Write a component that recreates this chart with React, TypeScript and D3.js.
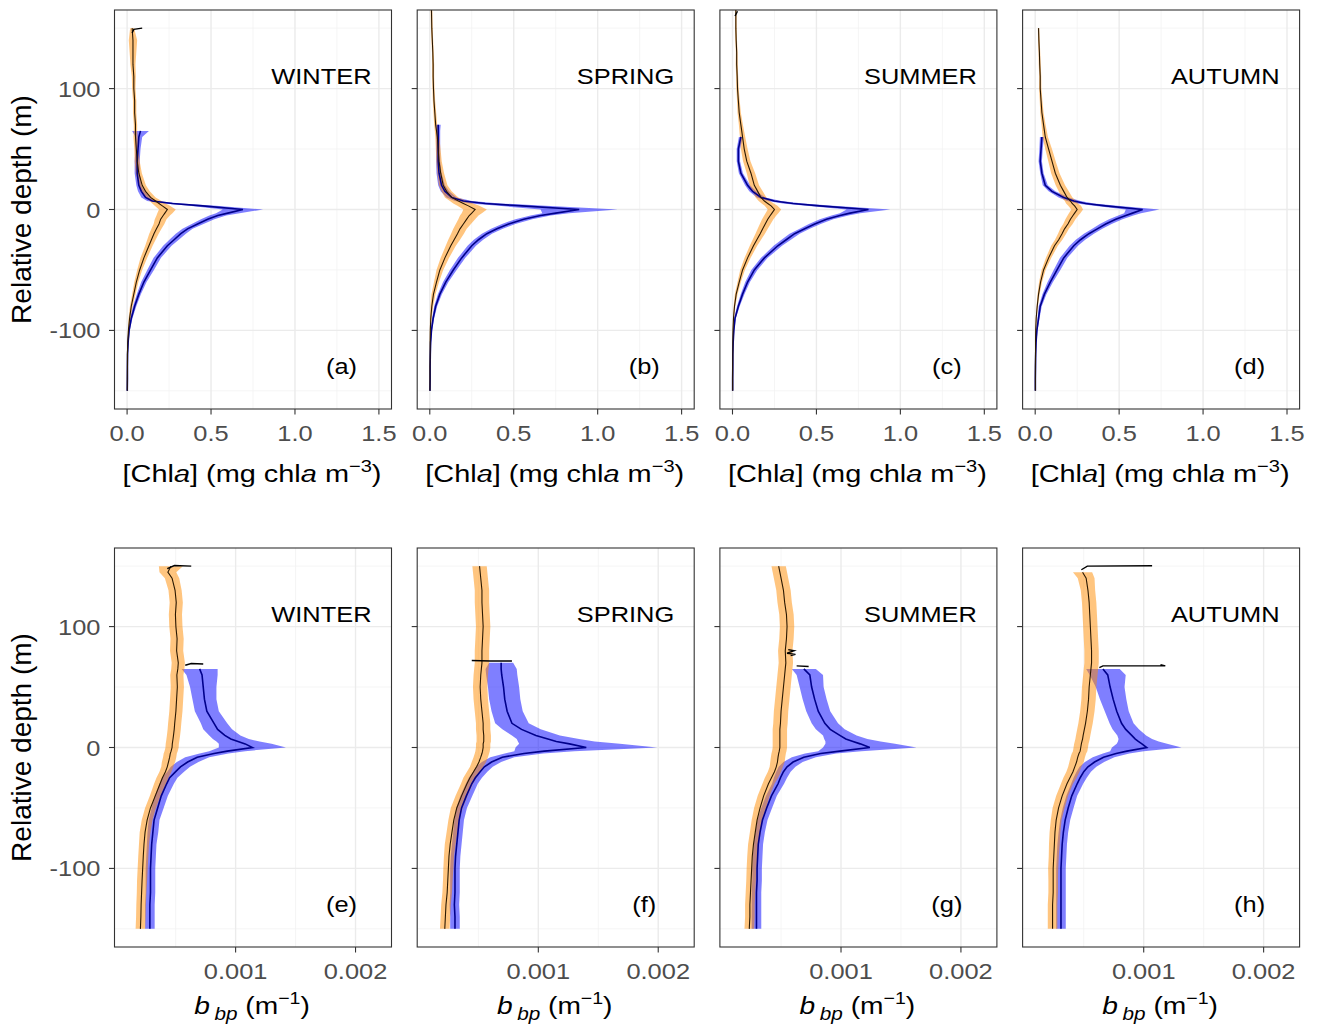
import React from "react";
import * as d3 from "d3";

// ---------- labels ----------
const SEASONS = ["WINTER", "SPRING", "SUMMER", "AUTUMN"];
const CHL_LETTERS = ["(a)", "(b)", "(c)", "(d)"];
const BBP_LETTERS = ["(e)", "(f)", "(g)", "(h)"];
const Y_TICKS = [-100, 0, 100];
const Y_MINOR = [-150, -50, 50, 150];
const CHL_TICKS = [0, 0.5, 1.0, 1.5];
const CHL_TICK_LABELS = ["0.0", "0.5", "1.0", "1.5"];
const CHL_MINOR = [0.25, 0.75, 1.25];
const BBP_TICKS = [0.001, 0.002];
const BBP_TICK_LABELS = ["0.001", "0.002"];
const BBP_MINOR = [0.0005, 0.0015];

// ---------- data: relative depth grids ----------
const DEPTH_CHL = [165, 150, 140, 130, 120, 110, 100, 90, 80, 70, 65, 60, 50, 40, 30, 20, 15, 10, 7, 5, 3, 0, -3, -5, -8, -12, -16, -20, -25, -30, -40, -50, -60, -70, -80, -90, -100, -110, -120, -130, -140, -150];
const DEPTH_BBP = [150, 145, 140, 130, 120, 110, 100, 90, 80, 70, 65, 60, 50, 40, 30, 20, 15, 10, 7, 5, 3, 0, -3, -5, -8, -12, -16, -20, -25, -30, -40, -50, -60, -70, -80, -90, -100, -110, -120, -130, -140, -150];

const N = null;

// ---------- [Chla] (mg m-3): orange = group 1, blue = group 2 ----------
const chlWinterOrange = [N, 0.03, 0.035, 0.035, 0.035, 0.04, 0.04, 0.045, 0.045, 0.05, 0.05, 0.05, 0.055, 0.06, 0.07, 0.09, 0.11, 0.14, 0.17, 0.19, 0.21, 0.24, 0.225, 0.215, 0.2, 0.19, 0.175, 0.16, 0.145, 0.13, 0.1, 0.075, 0.055, 0.04, 0.025, 0.015, 0.008, 0.004, 0.002, 0.002, 0.001, 0.001];
const chlWinterOrangeSd = [N, 0.012, 0.025, 0.02, 0.015, 0.012, 0.01, 0.01, 0.01, 0.01, 0.01, 0.012, 0.012, 0.015, 0.018, 0.022, 0.025, 0.03, 0.035, 0.04, 0.045, 0.05, 0.045, 0.04, 0.035, 0.032, 0.03, 0.028, 0.025, 0.022, 0.02, 0.015, 0.012, 0.01, 0.008, 0.006, 0.004, 0.002, 0.001, 0.001, 0.001, 0.001];
const chlWinterBlue = [N, N, N, N, N, N, N, N, N, N, 0.08, 0.07, 0.065, 0.06, 0.06, 0.07, 0.085, 0.11, 0.15, 0.27, 0.45, 0.69, 0.6, 0.54, 0.48, 0.42, 0.36, 0.32, 0.28, 0.24, 0.18, 0.14, 0.1, 0.07, 0.045, 0.025, 0.012, 0.006, 0.003, 0.002, 0.002, 0.001];
const chlWinterBlueSd = [N, N, N, N, N, N, N, N, N, N, 0.05, 0.02, 0.015, 0.015, 0.015, 0.015, 0.02, 0.025, 0.03, 0.05, 0.08, 0.12, 0.07, 0.05, 0.04, 0.035, 0.03, 0.03, 0.028, 0.025, 0.022, 0.02, 0.016, 0.012, 0.01, 0.007, 0.004, 0.003, 0.002, 0.001, 0.001, 0.001];

const chlSpringOrange = [0.01, 0.012, 0.015, 0.018, 0.02, 0.02, 0.022, 0.025, 0.03, 0.035, 0.04, 0.045, 0.05, 0.055, 0.065, 0.08, 0.1, 0.13, 0.17, 0.2, 0.23, 0.27, 0.25, 0.235, 0.22, 0.2, 0.18, 0.165, 0.145, 0.125, 0.09, 0.06, 0.04, 0.022, 0.012, 0.006, 0.003, 0.002, 0.002, 0.001, 0.001, 0.001];
const chlSpringOrangeSd = [0.005, 0.005, 0.005, 0.005, 0.006, 0.006, 0.006, 0.007, 0.008, 0.009, 0.01, 0.012, 0.014, 0.016, 0.02, 0.025, 0.03, 0.04, 0.05, 0.06, 0.065, 0.07, 0.06, 0.055, 0.05, 0.045, 0.04, 0.038, 0.035, 0.03, 0.025, 0.02, 0.015, 0.012, 0.008, 0.005, 0.003, 0.002, 0.001, 0.001, 0.001, 0.001];
const chlSpringBlue = [N, N, N, N, N, N, N, N, N, 0.05, 0.05, 0.05, 0.05, 0.05, 0.055, 0.07, 0.09, 0.13, 0.2, 0.33, 0.55, 0.89, 0.75, 0.66, 0.56, 0.47, 0.4, 0.34, 0.29, 0.25, 0.19, 0.14, 0.095, 0.06, 0.035, 0.02, 0.01, 0.005, 0.003, 0.002, 0.002, 0.001];
const chlSpringBlueSd = [N, N, N, N, N, N, N, N, N, 0.015, 0.012, 0.012, 0.012, 0.012, 0.015, 0.02, 0.025, 0.03, 0.05, 0.09, 0.14, 0.23, 0.08, 0.06, 0.05, 0.04, 0.035, 0.03, 0.028, 0.025, 0.022, 0.02, 0.016, 0.012, 0.009, 0.006, 0.004, 0.003, 0.002, 0.001, 0.001, 0.001];

const chlSummerOrange = [0.02, 0.02, 0.022, 0.025, 0.025, 0.028, 0.03, 0.035, 0.04, 0.05, 0.055, 0.06, 0.07, 0.085, 0.11, 0.13, 0.15, 0.17, 0.19, 0.21, 0.23, 0.25, 0.235, 0.225, 0.21, 0.195, 0.18, 0.165, 0.145, 0.125, 0.09, 0.06, 0.04, 0.022, 0.012, 0.006, 0.003, 0.002, 0.002, 0.001, 0.001, 0.001];
const chlSummerOrangeSd = [0.004, 0.005, 0.005, 0.005, 0.006, 0.006, 0.007, 0.008, 0.01, 0.012, 0.014, 0.016, 0.02, 0.022, 0.025, 0.028, 0.03, 0.032, 0.034, 0.036, 0.038, 0.04, 0.038, 0.036, 0.034, 0.032, 0.03, 0.028, 0.025, 0.022, 0.018, 0.014, 0.01, 0.008, 0.005, 0.003, 0.002, 0.001, 0.001, 0.001, 0.001, 0.001];
const chlSummerBlue = [N, N, N, N, N, N, N, N, N, N, N, 0.05, 0.035, 0.035, 0.05, 0.09, 0.12, 0.17, 0.25, 0.36, 0.52, 0.81, 0.7, 0.64, 0.56, 0.49, 0.43, 0.37, 0.32, 0.27, 0.19, 0.13, 0.09, 0.06, 0.035, 0.015, 0.008, 0.004, 0.002, 0.002, 0.001, 0.001];
const chlSummerBlueSd = [N, N, N, N, N, N, N, N, N, N, N, 0.012, 0.01, 0.01, 0.012, 0.015, 0.02, 0.025, 0.04, 0.06, 0.08, 0.13, 0.06, 0.05, 0.04, 0.035, 0.03, 0.03, 0.028, 0.025, 0.02, 0.018, 0.014, 0.011, 0.008, 0.005, 0.003, 0.002, 0.001, 0.001, 0.001, 0.001];

const chlAutumnOrange = [N, 0.02, 0.022, 0.025, 0.027, 0.03, 0.03, 0.035, 0.04, 0.05, 0.055, 0.06, 0.08, 0.1, 0.12, 0.15, 0.17, 0.19, 0.21, 0.22, 0.235, 0.25, 0.235, 0.225, 0.21, 0.195, 0.175, 0.16, 0.14, 0.115, 0.08, 0.05, 0.032, 0.02, 0.012, 0.006, 0.003, 0.002, 0.002, 0.001, 0.001, 0.001];
const chlAutumnOrangeSd = [N, 0.004, 0.005, 0.005, 0.006, 0.006, 0.007, 0.008, 0.01, 0.012, 0.014, 0.016, 0.02, 0.022, 0.025, 0.028, 0.03, 0.032, 0.034, 0.036, 0.038, 0.035, 0.034, 0.032, 0.03, 0.028, 0.026, 0.024, 0.022, 0.02, 0.016, 0.012, 0.009, 0.006, 0.004, 0.003, 0.002, 0.001, 0.001, 0.001, 0.001, 0.001];
const chlAutumnBlue = [N, N, N, N, N, N, N, N, N, N, N, 0.04, 0.035, 0.03, 0.04, 0.06, 0.1, 0.17, 0.23, 0.3, 0.42, 0.64, 0.58, 0.54, 0.48, 0.42, 0.37, 0.32, 0.27, 0.23, 0.17, 0.13, 0.09, 0.055, 0.03, 0.02, 0.01, 0.005, 0.003, 0.002, 0.001, 0.001];
const chlAutumnBlueSd = [N, N, N, N, N, N, N, N, N, N, N, 0.012, 0.01, 0.01, 0.01, 0.015, 0.02, 0.03, 0.04, 0.05, 0.07, 0.1, 0.05, 0.045, 0.04, 0.035, 0.03, 0.03, 0.028, 0.025, 0.022, 0.02, 0.016, 0.012, 0.009, 0.006, 0.004, 0.003, 0.002, 0.001, 0.001, 0.001];

// top-of-profile black hooks: [value, depth]
const chlWinterHook = [[0.03, 146], [0.04, 149], [0.09, 150]];
const chlSummerHook = [[0.015, 160], [0.03, 164]];

// ---------- bbp (values in 1e-4 m-1) ----------
const BBP_UNIT = 1e-4;
const bbpWinterOrange = [4.6, 4.35, 4.7, 4.95, 5.05, 4.98, 5.02, 5.12, 5.08, 5.22, 5.18, 5.1, 5.14, 5.08, 5.02, 4.92, 4.88, 4.82, 4.78, 4.75, 4.72, 4.7, 4.62, 4.55, 4.5, 4.4, 4.3, 4.15, 3.9, 3.7, 3.3, 2.9, 2.62, 2.45, 2.36, 2.3, 2.25, 2.2, 2.16, 2.12, 2.1, 2.06];
const bbpWinterOrangeSd = [1.0, 0.7, 0.6, 0.55, 0.55, 0.55, 0.55, 0.55, 0.55, 0.55, 0.55, 0.55, 0.55, 0.55, 0.55, 0.55, 0.55, 0.55, 0.55, 0.55, 0.55, 0.55, 0.55, 0.55, 0.55, 0.55, 0.5, 0.5, 0.5, 0.5, 0.45, 0.45, 0.45, 0.45, 0.42, 0.42, 0.42, 0.42, 0.4, 0.4, 0.4, 0.4];
const bbpWinterBlue = [N, N, N, N, N, N, N, N, N, N, 7.0, 7.2, 7.3, 7.4, 7.6, 8.2, 8.5, 9.1, 9.6, 10.2, 10.8, 11.4, 9.3, 8.2, 6.8, 6.0, 5.4, 5.0, 4.5, 4.25, 3.8, 3.5, 3.2, 3.1, 3.0, 2.95, 2.9, 2.9, 2.9, 2.85, 2.85, 2.85];
const bbpWinterBlueSd = [N, N, N, N, N, N, N, N, N, N, 1.5, 1.3, 1.1, 1.0, 1.0, 1.1, 1.2, 1.3, 1.5, 1.8, 2.2, 2.8, 1.5, 1.2, 1.0, 0.9, 0.8, 0.7, 0.65, 0.6, 0.55, 0.5, 0.45, 0.45, 0.4, 0.4, 0.4, 0.4, 0.4, 0.4, 0.4, 0.4];

const bbpSpringOrange = [5.1, 5.15, 5.2, 5.3, 5.3, 5.35, 5.4, 5.35, 5.3, 5.3, 5.25, 5.2, 5.15, 5.2, 5.3, 5.4, 5.4, 5.45, 5.45, 5.45, 5.4, 5.4, 5.35, 5.3, 5.2, 5.05, 4.85, 4.6, 4.3, 4.05, 3.6, 3.2, 2.95, 2.8, 2.65, 2.55, 2.5, 2.45, 2.4, 2.3, 2.25, 2.2];
const bbpSpringOrangeSd = [0.6, 0.6, 0.6, 0.6, 0.6, 0.6, 0.6, 0.6, 0.6, 0.6, 0.6, 0.6, 0.6, 0.6, 0.6, 0.6, 0.6, 0.6, 0.6, 0.6, 0.6, 0.6, 0.6, 0.6, 0.6, 0.6, 0.55, 0.55, 0.55, 0.5, 0.5, 0.5, 0.45, 0.45, 0.45, 0.42, 0.42, 0.4, 0.4, 0.4, 0.4, 0.4];
const bbpSpringBlue = [N, N, N, N, N, N, N, N, N, 6.9, 6.9, 6.95, 7.1, 7.2, 7.4, 7.8, 8.6, 9.8, 10.8, 11.5, 12.6, 14.0, 10.5, 8.8, 7.0, 6.1, 5.5, 5.15, 4.75, 4.45, 4.0, 3.6, 3.4, 3.3, 3.2, 3.1, 3.05, 3.05, 3.05, 3.0, 3.05, 3.05];
const bbpSpringBlueSd = [N, N, N, N, N, N, N, N, N, 1.0, 1.3, 1.3, 1.3, 1.3, 1.3, 1.4, 1.6, 2.0, 2.6, 3.2, 4.2, 5.9, 2.5, 1.6, 1.0, 0.8, 0.7, 0.6, 0.55, 0.5, 0.5, 0.45, 0.4, 0.4, 0.4, 0.4, 0.4, 0.4, 0.4, 0.4, 0.4, 0.4];

const bbpSummerOrange = [4.8, 4.9, 5.0, 5.2, 5.3, 5.45, 5.5, 5.45, 5.35, 5.4, 5.35, 5.3, 5.2, 5.1, 5.0, 4.95, 4.9, 4.9, 4.9, 4.9, 4.9, 4.9, 4.85, 4.8, 4.75, 4.7, 4.6, 4.45, 4.2, 3.95, 3.55, 3.25, 3.0, 2.85, 2.7, 2.6, 2.55, 2.5, 2.45, 2.4, 2.4, 2.35];
const bbpSummerOrangeSd = [0.6, 0.6, 0.6, 0.6, 0.6, 0.6, 0.6, 0.6, 0.6, 0.6, 0.6, 0.6, 0.6, 0.6, 0.6, 0.6, 0.6, 0.6, 0.6, 0.6, 0.6, 0.6, 0.6, 0.6, 0.6, 0.6, 0.55, 0.55, 0.55, 0.5, 0.5, 0.5, 0.45, 0.45, 0.45, 0.42, 0.42, 0.4, 0.4, 0.4, 0.4, 0.4];
const bbpSummerBlue = [N, N, N, N, N, N, N, N, N, N, 6.9, 7.4, 7.55, 7.8, 8.1, 8.65, 9.1, 9.9, 10.4, 11.0, 11.6, 12.4, 9.9, 8.3, 6.9, 6.0, 5.5, 5.2, 4.95, 4.75, 4.2, 3.8, 3.45, 3.25, 3.1, 3.05, 3.0, 3.0, 2.95, 2.95, 2.95, 2.95];
const bbpSummerBlueSd = [N, N, N, N, N, N, N, N, N, N, 1.0, 1.1, 1.0, 1.0, 1.0, 1.1, 1.2, 1.4, 1.8, 2.3, 2.9, 3.9, 1.8, 1.3, 1.0, 0.8, 0.7, 0.6, 0.55, 0.5, 0.45, 0.45, 0.42, 0.4, 0.4, 0.4, 0.4, 0.4, 0.4, 0.4, 0.4, 0.4];

const bbpAutumnOrange = [N, 4.9, 5.2, 5.35, 5.45, 5.5, 5.55, 5.6, 5.65, 5.65, 5.6, 5.55, 5.45, 5.4, 5.3, 5.15, 5.05, 4.95, 4.9, 4.85, 4.8, 4.75, 4.7, 4.6, 4.5, 4.4, 4.25, 4.1, 3.85, 3.6, 3.2, 2.9, 2.7, 2.6, 2.55, 2.5, 2.45, 2.45, 2.45, 2.4, 2.4, 2.4];
const bbpAutumnOrangeSd = [N, 0.8, 0.7, 0.6, 0.6, 0.6, 0.6, 0.6, 0.6, 0.6, 0.6, 0.6, 0.6, 0.6, 0.6, 0.6, 0.6, 0.6, 0.6, 0.6, 0.6, 0.6, 0.6, 0.6, 0.6, 0.6, 0.55, 0.55, 0.55, 0.5, 0.5, 0.5, 0.45, 0.45, 0.45, 0.42, 0.42, 0.4, 0.4, 0.4, 0.4, 0.4];
const bbpAutumnBlue = [N, N, N, N, N, N, N, N, N, N, 6.6, 7.0, 7.2, 7.45, 7.75, 8.15, 8.5, 9.0, 9.3, 9.55, 9.85, 10.25, 8.6, 7.7, 6.65, 5.9, 5.35, 5.0, 4.7, 4.45, 4.0, 3.7, 3.45, 3.3, 3.2, 3.15, 3.1, 3.1, 3.1, 3.1, 3.1, 3.1];
const bbpAutumnBlueSd = [N, N, N, N, N, N, N, N, N, N, 1.4, 1.5, 1.2, 1.1, 1.0, 1.0, 1.1, 1.2, 1.4, 1.7, 2.1, 2.9, 1.4, 1.1, 0.9, 0.8, 0.7, 0.6, 0.55, 0.5, 0.45, 0.45, 0.42, 0.4, 0.4, 0.4, 0.4, 0.4, 0.4, 0.4, 0.4, 0.4];

// hooks in 1e-4 units: [value, depth]
const bbpWinterHooks = [[[4.3, 148], [4.9, 150.5], [6.3, 150]], [[5.8, 68], [6.3, 69.5], [7.3, 69]]];
const bbpSpringHooks = [[[4.45, 72], [6.0, 71.5], [7.8, 71.5]]];
const bbpSummerHooks = [[[5.6, 81], [6.1, 80], [5.5, 78], [6.2, 77], [5.8, 76]], [[6.3, 67.5], [7.3, 67]]];
const bbpAutumnHooks = [[[4.8, 147], [5.3, 150], [10.7, 150.3]], [[6.3, 66], [6.6, 67.5], [11.8, 67.5], [11.4, 68.6]]];

// ---------- assembly ----------
const toUnit = (a: (number | null)[]) => a.map((v) => (v == null ? null : v * BBP_UNIT));

const chlPanels = [
  { o: chlWinterOrange, os: chlWinterOrangeSd, b: chlWinterBlue, bs: chlWinterBlueSd, hooks: [chlWinterHook] },
  { o: chlSpringOrange, os: chlSpringOrangeSd, b: chlSpringBlue, bs: chlSpringBlueSd, hooks: [] },
  { o: chlSummerOrange, os: chlSummerOrangeSd, b: chlSummerBlue, bs: chlSummerBlueSd, hooks: [chlSummerHook] },
  { o: chlAutumnOrange, os: chlAutumnOrangeSd, b: chlAutumnBlue, bs: chlAutumnBlueSd, hooks: [] },
];
const bbpPanels = [
  { o: bbpWinterOrange, os: bbpWinterOrangeSd, b: bbpWinterBlue, bs: bbpWinterBlueSd, hooks: bbpWinterHooks },
  { o: bbpSpringOrange, os: bbpSpringOrangeSd, b: bbpSpringBlue, bs: bbpSpringBlueSd, hooks: bbpSpringHooks },
  { o: bbpSummerOrange, os: bbpSummerOrangeSd, b: bbpSummerBlue, bs: bbpSummerBlueSd, hooks: bbpSummerHooks },
  { o: bbpAutumnOrange, os: bbpAutumnOrangeSd, b: bbpAutumnBlue, bs: bbpAutumnBlueSd, hooks: bbpAutumnHooks },
].map((p) => ({
  o: toUnit(p.o), os: toUnit(p.os), b: toUnit(p.b), bs: toUnit(p.bs),
  hooks: p.hooks.map((h) => h.map(([v, d]) => [v * BBP_UNIT, d])),
}));

// ---------- layout ----------
const FONT = "'Liberation Sans', Arial, Helvetica, sans-serif";
const SX = 1.13;
const PANEL_LEFT0 = 114.5;
const PANEL_STEP = 302.7;
const PANEL_W = 277;
const PANEL_H = 399;
const ROW_TOP = [10, 548];
const TICK_FS = 22.5;

type Pt = { d: number; m: number | null; s: number | null };

function Txt(props: any) {
  const { x, y, anchor = "start", size = TICK_FS, fill = "#000", children, rotate, sx = SX } = props;
  const tr = rotate ? `translate(${x},${y}) rotate(${rotate})` : `translate(${x},${y}) scale(${sx},1)`;
  return (
    <text transform={tr} textAnchor={anchor} fontSize={size} fontFamily={FONT} fill={fill}>
      {children}
    </text>
  );
}

function Panel(props: any) {
  const { id, left, top, depth, data, xDomain, ticks, tickLabels, minor, season, letter, showY } = props;
  const x = d3.scaleLinear().domain(xDomain).range([left, left + PANEL_W]);
  const y = d3.scaleLinear().domain([-165, 165]).range([top + PANEL_H, top]);
  const mk = (m: any[], s: any[]): Pt[] => depth.map((d: number, i: number) => ({ d, m: m[i], s: s[i] }));
  const orange = mk(data.o, data.os);
  const blue = mk(data.b, data.bs);
  const area = d3
    .area<Pt>()
    .defined((p) => p.m != null)
    .y((p) => y(p.d))
    .x0((p) => x((p.m as number) - (p.s as number)))
    .x1((p) => x((p.m as number) + (p.s as number)));
  const line = d3
    .line<Pt>()
    .defined((p) => p.m != null)
    .x((p) => x(p.m as number))
    .y((p) => y(p.d));
  const hookLine = d3
    .line<number[]>()
    .x((p) => x(p[0]))
    .y((p) => y(p[1]));
  const bottom = top + PANEL_H;
  const right = left + PANEL_W;
  return (
    <g>
      <defs>
        <clipPath id={id}>
          <rect x={left} y={top} width={PANEL_W} height={PANEL_H} />
        </clipPath>
      </defs>
      <rect x={left} y={top} width={PANEL_W} height={PANEL_H} fill="#fff" />
      {minor.map((v: number) => (
        <line key={"mx" + v} x1={x(v)} x2={x(v)} y1={top} y2={bottom} stroke="#f2f2f2" strokeWidth={0.8} />
      ))}
      {Y_MINOR.map((v) => (
        <line key={"my" + v} x1={left} x2={right} y1={y(v)} y2={y(v)} stroke="#f2f2f2" strokeWidth={0.8} />
      ))}
      {ticks.map((v: number) => (
        <line key={"gx" + v} x1={x(v)} x2={x(v)} y1={top} y2={bottom} stroke="#ebebeb" strokeWidth={1.4} />
      ))}
      {Y_TICKS.map((v) => (
        <line key={"gy" + v} x1={left} x2={right} y1={y(v)} y2={y(v)} stroke="#ebebeb" strokeWidth={1.4} />
      ))}
      <g clipPath={`url(#${id})`}>
        <path d={area(blue) || ""} fill="#0000ff" fillOpacity={0.5} />
        <path d={area(orange) || ""} fill="#ff8c00" fillOpacity={0.5} />
        <path d={line(blue) || ""} fill="none" stroke="#00008b" strokeWidth={1.6} />
        <path d={line(orange) || ""} fill="none" stroke="#2b1800" strokeWidth={1.1} />
        {data.hooks.map((h: number[][], i: number) => (
          <path key={i} d={hookLine(h) || ""} fill="none" stroke="#000" strokeWidth={1.4} />
        ))}
      </g>
      <rect x={left} y={top} width={PANEL_W} height={PANEL_H} fill="none" stroke="#333333" strokeWidth={1.1} />
      {Y_TICKS.map((v) => (
        <line key={"ty" + v} x1={left - 5.5} x2={left} y1={y(v)} y2={y(v)} stroke="#333333" strokeWidth={1.1} />
      ))}
      {ticks.map((v: number) => (
        <line key={"tx" + v} x1={x(v)} x2={x(v)} y1={bottom} y2={bottom + 5.5} stroke="#333333" strokeWidth={1.1} />
      ))}
      {showY &&
        Y_TICKS.map((v) => (
          <Txt key={"ly" + v} x={left - 14} y={y(v) + 8} anchor="end" fill="#4d4d4d">
            {String(v)}
          </Txt>
        ))}
      {ticks.map((v: number, i: number) => (
        <Txt key={"lx" + v} x={x(v)} y={bottom + 32} anchor="middle" fill="#4d4d4d">
          {tickLabels[i]}
        </Txt>
      ))}
      <Txt x={right - 20} y={top + 74} anchor="end">
        {season}
      </Txt>
      <Txt x={left + 227} y={top + 364} anchor="middle">
        {letter}
      </Txt>
    </g>
  );
}

export default function App() {
  const lefts = [0, 1, 2, 3].map((i) => PANEL_LEFT0 + i * PANEL_STEP);
  return (
    <svg
      width={1325}
      height={1028}
      viewBox="0 0 1325 1028"
      style={{ position: "absolute", left: 0, top: 0, background: "#fff" }}
    >
      <rect width={1325} height={1028} fill="#fff" />
      {chlPanels.map((p, i) => (
        <Panel
          key={"c" + i}
          id={"clipc" + i}
          left={lefts[i]}
          top={ROW_TOP[0]}
          depth={DEPTH_CHL}
          data={p}
          xDomain={[-0.075, 1.575]}
          ticks={CHL_TICKS}
          tickLabels={CHL_TICK_LABELS}
          minor={CHL_MINOR}
          season={SEASONS[i]}
          letter={CHL_LETTERS[i]}
          showY={i === 0}
        />
      ))}
      {bbpPanels.map((p, i) => (
        <Panel
          key={"b" + i}
          id={"clipb" + i}
          left={lefts[i]}
          top={ROW_TOP[1]}
          depth={DEPTH_BBP}
          data={p}
          xDomain={[-0.00001, 0.0023]}
          ticks={BBP_TICKS}
          tickLabels={BBP_TICK_LABELS}
          minor={BBP_MINOR}
          season={SEASONS[i]}
          letter={BBP_LETTERS[i]}
          showY={i === 0}
        />
      ))}
      {ROW_TOP.map((t, r) => (
        <Txt key={"yt" + r} x={31} y={t + PANEL_H / 2} anchor="middle" size={28} rotate={-90}>
          Relative depth (m)
        </Txt>
      ))}
      {lefts.map((l, i) => (
        <Txt key={"xt" + i} x={l + PANEL_W / 2 - 1} y={ROW_TOP[0] + PANEL_H + 73} anchor="middle" size={24.5} sx={1.18}>
          [Chl<tspan fontStyle="italic">a</tspan>] (mg chl<tspan fontStyle="italic">a</tspan> m
          <tspan fontSize={17} dy={-10}>−3</tspan>
          <tspan dy={10}>)</tspan>
        </Txt>
      ))}
      {lefts.map((l, i) => (
        <Txt key={"xb" + i} x={l + PANEL_W / 2 - 1} y={ROW_TOP[1] + PANEL_H + 67} anchor="middle" size={24.5} sx={1.15}>
          <tspan fontStyle="italic">b</tspan>
          <tspan fontStyle="italic" fontSize={18} dx={4} dy={6}>bp</tspan>
          <tspan dy={-6}> (m</tspan>
          <tspan fontSize={17} dy={-10}>−1</tspan>
          <tspan dy={10}>)</tspan>
        </Txt>
      ))}
    </svg>
  );
}
